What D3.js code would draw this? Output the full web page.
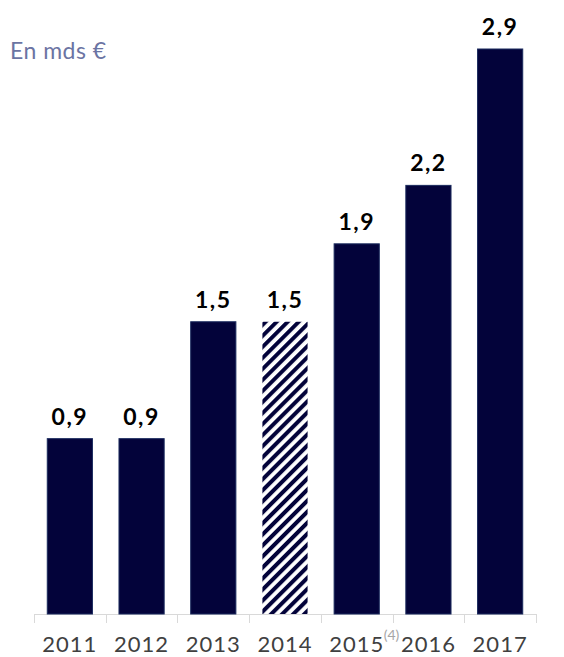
<!DOCTYPE html>
<html>
<head>
<meta charset="utf-8">
<script src="https://cdn.jsdelivr.net/npm/d3@7"></script>
<style>
  html, body { margin: 0; padding: 0; background: #fff; }
  svg { display: block; }
</style>
</head>
<body>
<div id="chart"></div>
<script>
// Annual amounts, billions of euros
const years = ["2011", "2012", "2013", "2014", "2015", "2016", "2017"];
const values = [0.9, 0.9, 1.5, 1.5, 1.9, 2.2, 2.9];
const valueLabels = ["0,9", "0,9", "1,5", "1,5", "1,9", "2,2", "2,9"];
const hatchedYears = ["2014"];
const footnotes = { "2015": "(4)" };
const unitLabel = "En mds €";

const width = 564, height = 657;
const margin = { top: 49, right: 28, bottom: 43, left: 34 };
const baseline = height - margin.bottom;

const svg = d3.select("#chart").append("svg")
  .attr("width", width).attr("height", height);

const navy = "#03033a";

// Diagonal hatch for the estimated year
const defs = svg.append("defs");
const period = 7.8;
const pat = defs.append("pattern")
  .attr("id", "hatch")
  .attr("patternUnits", "userSpaceOnUse")
  .attr("width", period).attr("height", period)
  .attr("patternTransform", "rotate(45)");
pat.append("rect").attr("width", period).attr("height", period).attr("fill", "#fff");
pat.append("rect").attr("x", 0).attr("width", 4).attr("height", period).attr("fill", navy);

const x = d3.scaleBand()
  .domain(years)
  .range([margin.left, width - margin.right])
  .paddingInner(0.37)
  .paddingOuter(0.185);

const y = d3.scaleLinear()
  .domain([0, 2.9])
  .range([baseline, margin.top]);

// Category axis: light baseline with ticks between bands
const boundaries = years.map(d => x(d) - x.step() * x.paddingInner() / 2);
boundaries.push(width - margin.right);
svg.append("line")
  .attr("x1", margin.left).attr("x2", width - margin.right)
  .attr("y1", baseline + 0.5).attr("y2", baseline + 0.5)
  .attr("stroke", "#d9d9d9").attr("stroke-width", 1);
svg.selectAll(".tick-mark").data(boundaries).join("line")
  .attr("class", "tick-mark")
  .attr("x1", d => Math.round(d) + 0.5).attr("x2", d => Math.round(d) + 0.5)
  .attr("y1", baseline).attr("y2", baseline + 9)
  .attr("stroke", "#d9d9d9").attr("stroke-width", 1);

const data = years.map((yr, i) => ({ yr, v: values[i], label: valueLabels[i] }));

svg.selectAll(".bar").data(data).join("rect")
  .attr("class", "bar")
  .attr("x", d => x(d.yr))
  .attr("width", x.bandwidth())
  .attr("y", d => y(d.v))
  .attr("height", d => y(0) - y(d.v))
  .attr("fill", d => hatchedYears.includes(d.yr) ? "url(#hatch)" : navy)
  .attr("stroke", d => hatchedYears.includes(d.yr) ? "none" : "#1b2b5e")
  .attr("stroke-width", 1);

svg.selectAll(".val").data(data).join("text")
  .attr("class", "val")
  .attr("x", d => x(d.yr) + x.bandwidth() / 2)
  .attr("y", d => y(d.v) - 14)
  .attr("text-anchor", "middle")
  .attr("font-family", "Lato, 'Open Sans', sans-serif")
  .attr("font-weight", "bold")
  .attr("font-size", 23)
  .attr("letter-spacing", 1.5)
  .attr("fill", "#000")
  .text(d => d.label);

svg.selectAll(".yr").data(years).join("text")
  .attr("class", "yr")
  .attr("x", d => x(d) + x.bandwidth() / 2)
  .attr("y", baseline + 38)
  .attr("text-anchor", "middle")
  .attr("font-family", "Lato, 'Open Sans', sans-serif")
  .attr("font-size", 22)
  .attr("letter-spacing", 1)
  .attr("fill", "#404040")
  .text(d => d);

// Footnote markers next to year labels
Object.entries(footnotes).forEach(([yr, note]) => {
  svg.append("text")
    .attr("x", x(yr) + x.bandwidth() / 2 + 27)
    .attr("y", baseline + 26)
    .attr("font-family", "Lato, 'Open Sans', sans-serif")
    .attr("font-size", 14)
    .attr("fill", "#a6a6a6")
    .text(note);
});

svg.append("text")
  .attr("x", 10).attr("y", 59)
  .attr("font-family", "Lato, 'Open Sans', sans-serif")
  .attr("font-size", 23)
  .attr("letter-spacing", 0.5)
  .attr("fill", "#6b74a3")
  .text(unitLabel);
</script>
</body>
</html>
